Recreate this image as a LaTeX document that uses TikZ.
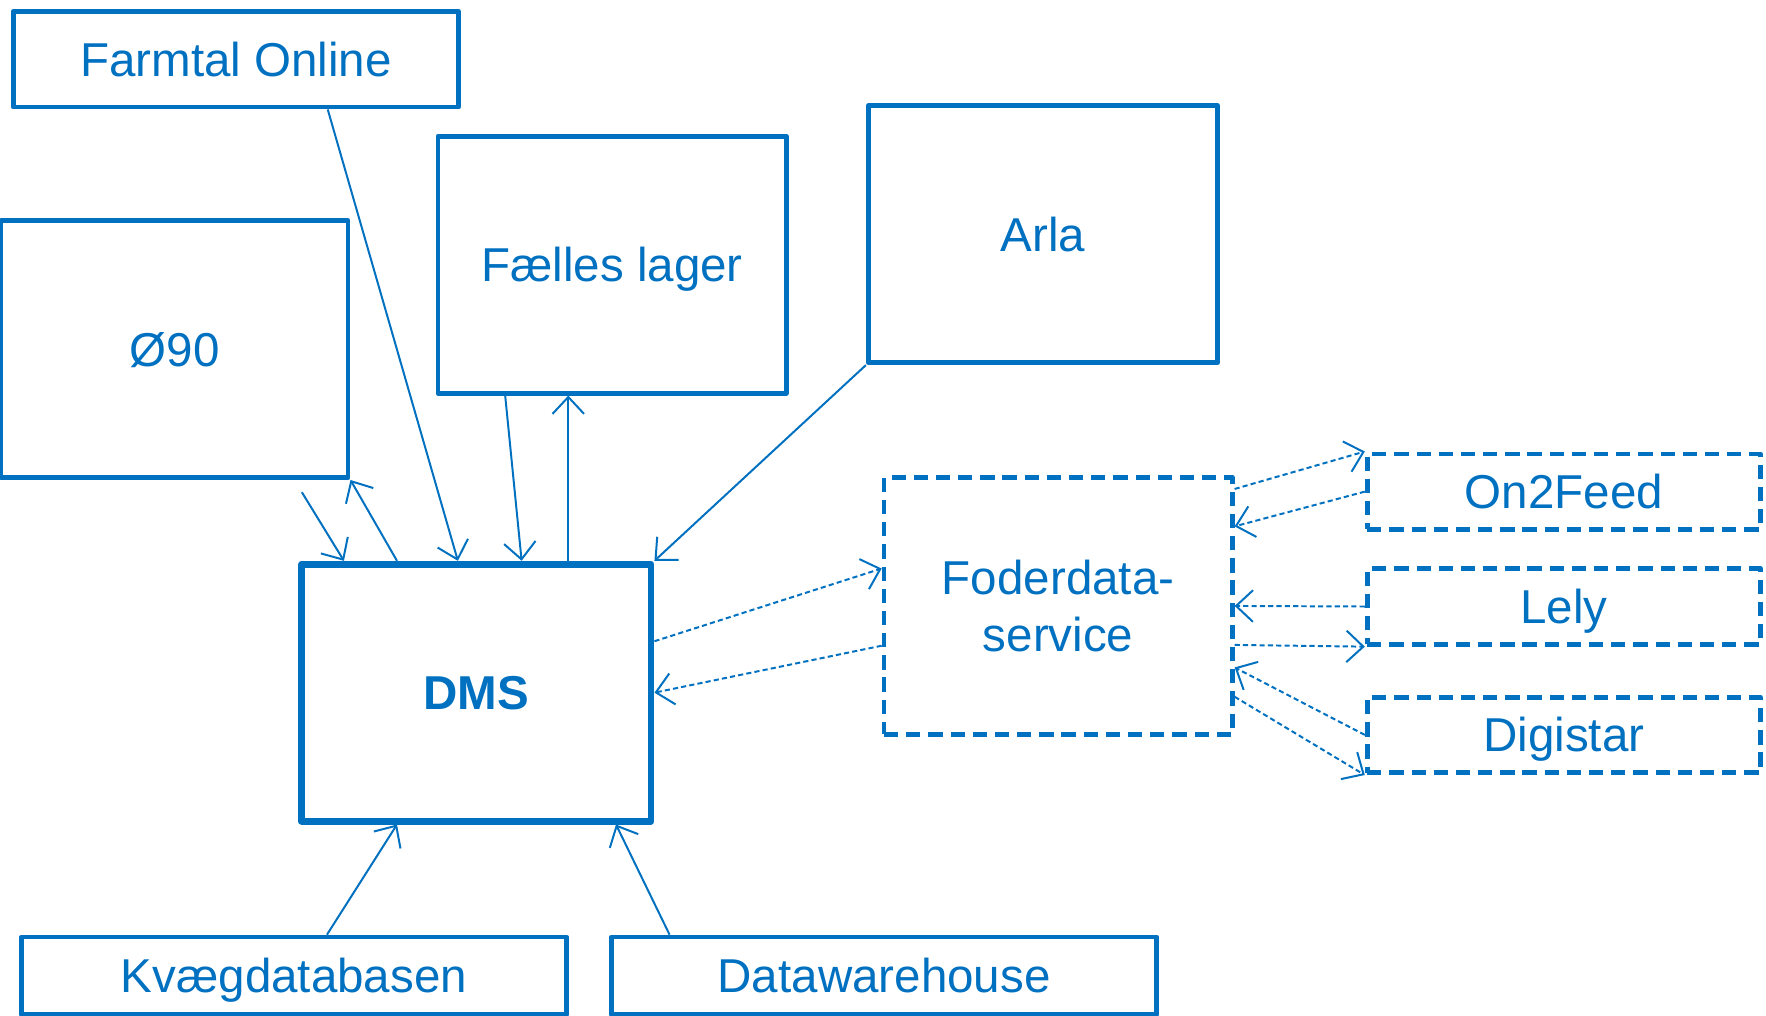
\documentclass[tikz,border=0pt]{standalone}
\usepackage{fontspec}
\setmainfont{Liberation Sans}
\usetikzlibrary{arrows.meta,calc}
\definecolor{dmsblue}{HTML}{0070C0}

\begin{document}
\begin{tikzpicture}[x=0.01cm,y=-0.01cm,line join=round,
  boxline/.style={draw=dmsblue,line width=1.2pt,text=dmsblue,inner sep=0pt,align=center,
    font=\fontsize{12}{14.2}\selectfont},
  sysbox/.style={boxline,text height=8.6pt,text depth=0pt},
  dmsbox/.style={sysbox,line width=1.7pt,font=\bfseries\fontsize{12}{14.2}\selectfont},
  extbox/.style={sysbox,dash pattern=on 3.6pt off 2pt},
  flow/.style={dmsblue,line width=0.5pt,-{Straight Barb[length=1.5mm,width=2.8mm]}},
  dflow/.style={flow,dash pattern=on 1.3pt off 0.8pt}]
\useasboundingbox (0,0) rectangle (1568,902);

% systems
\node[sysbox,minimum width=3.95cm,minimum height=0.85cm] (farmtal) at (209.5,52.5) {Farmtal Online};
\node[sysbox,minimum width=3.08cm,minimum height=2.28cm] (o90) at (155,310) {Ø90};
\node[sysbox,minimum width=3.09cm,minimum height=2.28cm] (faelles) at (543.5,235) {Fælles lager};
\node[sysbox,minimum width=3.10cm,minimum height=2.28cm] (arla) at (926,208) {Arla};
\node[dmsbox,minimum width=3.10cm,minimum height=2.28cm] (dms) at (423,615) {DMS};
\node[sysbox,minimum width=4.84cm,minimum height=0.69cm] (kvaeg) at (261,866.5) {Kvægdatabasen};
\node[sysbox,minimum width=4.84cm,minimum height=0.69cm] (dwh) at (785,866.5) {Datawarehouse};

% foderdata and feeding systems
\node[boxline,dash pattern=on 3.6pt off 2pt,minimum width=3.09cm,minimum height=2.28cm] (foder) at (939.5,538) {Foderdata-\\service};
\node[extbox,minimum width=3.49cm,minimum height=0.67cm] (on2feed) at (1388.5,436.5) {On2Feed};
\node[extbox,minimum width=3.49cm,minimum height=0.67cm] (lely) at (1388.5,538.5) {Lely};
\node[extbox,minimum width=3.49cm,minimum height=0.67cm] (digistar) at (1388.5,652.5) {Digistar};

\coordinate (o90out) at (268,437);
\coordinate (dmsup) at ($(dms.north west)!0.758!(dms.north east)$);

% flows into and out of DMS
\draw[flow] ($(farmtal.south west)!0.704!(farmtal.south east)$) -- ($(dms.north west)!0.448!(dms.north east)$);
\draw[flow] (o90out) -- ($(dms.north west)!0.128!(dms.north east)$);
\draw[flow] ($(dms.north west)!0.277!(dms.north east)$) -- (o90.south east);
\draw[flow] ($(faelles.south west)!0.197!(faelles.south east)$) -- ($(dms.north west)!0.627!(dms.north east)$);
\draw[flow] (dmsup) -- (dmsup |- faelles.south);
\draw[flow] (arla.south west) -- (dms.north east);
\draw[flow] ($(kvaeg.north west)!0.56!(kvaeg.north east)$) -- ($(dms.south west)!0.277!(dms.south east)$);
\draw[flow] ($(dwh.north west)!0.11!(dwh.north east)$) -- ($(dms.south west)!0.892!(dms.south east)$);

% dashed flows
\draw[dflow] ($(dms.north east)!0.305!(dms.south east)$) -- ($(foder.north west)!0.357!(foder.south west)$);
\draw[dflow] ($(foder.north west)!0.652!(foder.south west)$) -- (dms.east);
\draw[dflow] ($(foder.north east)!0.053!(foder.south east)$) -- (on2feed.north west);
\draw[dflow] (on2feed.west) -- ($(foder.north east)!0.196!(foder.south east)$);
\draw[dflow] (lely.west) -- (foder.east);
\draw[dflow] ($(foder.north east)!0.649!(foder.south east)$) -- (lely.south west);
\draw[dflow] (digistar.west) -- ($(foder.north east)!0.735!(foder.south east)$);
\draw[dflow] ($(foder.north east)!0.847!(foder.south east)$) -- (digistar.south west);
\end{tikzpicture}
\end{document}
